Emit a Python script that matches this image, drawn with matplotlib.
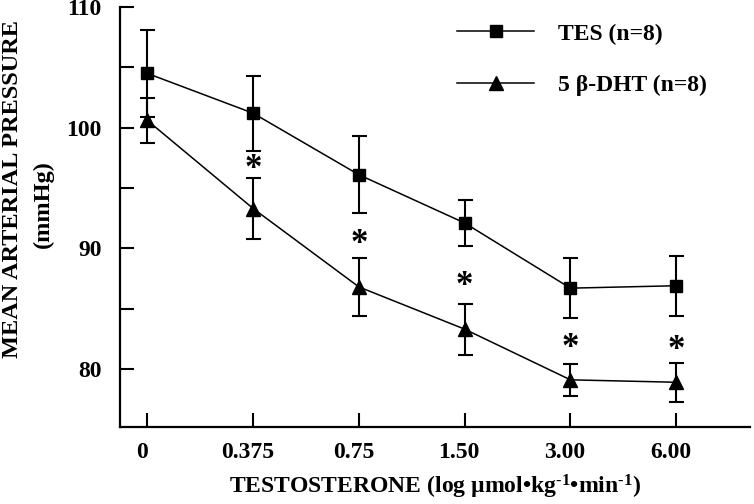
import numpy as np
import matplotlib.pyplot as plt
import matplotlib.transforms as mtransforms

plt.rcParams['font.family'] = ['Liberation Serif', 'DejaVu Serif']
plt.rcParams['font.weight'] = 'bold'
plt.rcParams['axes.labelweight'] = 'bold'
plt.rcParams['mathtext.fontset'] = 'custom'
plt.rcParams['mathtext.rm'] = 'Liberation Serif:bold'
plt.rcParams['mathtext.it'] = 'Liberation Serif:bold'
plt.rcParams['mathtext.bf'] = 'Liberation Serif:bold'

# doses (categorical x axis)
doses = ['0', '0.375', '0.75', '1.50', '3.00', '6.00']

# TES group
tes_mean = [104.5, 101.2, 96.1, 92.1, 86.7, 86.9]
tes_err = [3.6, 3.1, 3.2, 1.9, 2.5, 2.5]

# 5 beta-DHT group
dht_mean = [100.6, 93.3, 86.8, 83.3, 79.1, 78.9]
dht_err = [1.9, 2.5, 2.4, 2.1, 1.3, 1.6]

# significance asterisks (between the two groups)
star_y = [97.1, 90.9, 87.4, 82.3, 82.1]
star_idx = [1, 2, 3, 4, 5]


def main():
    fig = plt.figure(figsize=(7.54, 5.04), dpi=100)
    ax = fig.add_axes([0.159, 0.153, 0.836, 0.833])

    x = np.arange(len(doses))

    ax.errorbar(x, tes_mean, yerr=tes_err, color='black', marker='s', ms=8.5,
                lw=1.1, elinewidth=1.5, capsize=5.4, capthick=1.5, label='TES (n=8)')
    ax.errorbar(x, dht_mean, yerr=dht_err, color='black', marker='^', ms=10,
                lw=1.1, elinewidth=1.5, capsize=5.4, capthick=1.5, label='5 β-DHT (n=8)')

    for i, yy in zip(star_idx, star_y):
        ax.text(x[i], yy - 0.6, '*', ha='center', va='center', fontsize=25, fontweight='bold')

    ax.set_xlim(-0.26, 5.70)
    ax.set_ylim(75.2, 110)
    ax.set_xticks(x)
    ax.set_xticklabels(doses)
    ax.set_yticks([80, 90, 100, 110])
    ax.set_yticks([85, 95, 105], minor=True)
    ax.tick_params(axis='both', which='both', direction='in', width=1.5, labelsize=17)
    ax.tick_params(axis='both', which='major', length=10)
    ax.tick_params(axis='y', which='minor', length=10)
    ax.tick_params(axis='x', pad=11)
    ax.tick_params(axis='y', pad=13)

    # labels in the original sit a little left of their ticks
    shift = mtransforms.ScaledTranslation(-4 / 72, 0, fig.dpi_scale_trans)
    for lbl in ax.get_xticklabels():
        lbl.set_transform(lbl.get_transform() + shift)

    for s in ['top', 'right']:
        ax.spines[s].set_visible(False)
    for s in ['left', 'bottom']:
        ax.spines[s].set_linewidth(1.6)

    ax.set_xlabel(r'TESTOSTERONE (log µmol•kg$^{\text{-}1}$•min$^{\text{-}1}$)', fontsize=17,
                  fontweight='bold', labelpad=7)

    fig.text(0.017, 0.625, 'MEAN ARTERIAL PRESSURE', rotation=90, ha='center', va='center', fontsize=17.5)
    fig.text(0.057, 0.595, '(mmHg)', rotation=90, ha='center', va='center', fontsize=17.5)

    handles, labels = ax.get_legend_handles_labels()
    handles = [h[0] for h in handles]
    ax.legend(handles, labels, loc='upper left', bbox_to_anchor=(0.535, 0.962), frameon=False,
              fontsize=17, handlelength=3.26, handletextpad=1.0, labelspacing=1.27,
              borderpad=0, borderaxespad=0)

    plt.savefig('out.png', dpi=100)


if __name__ == "__main__":
    main()
